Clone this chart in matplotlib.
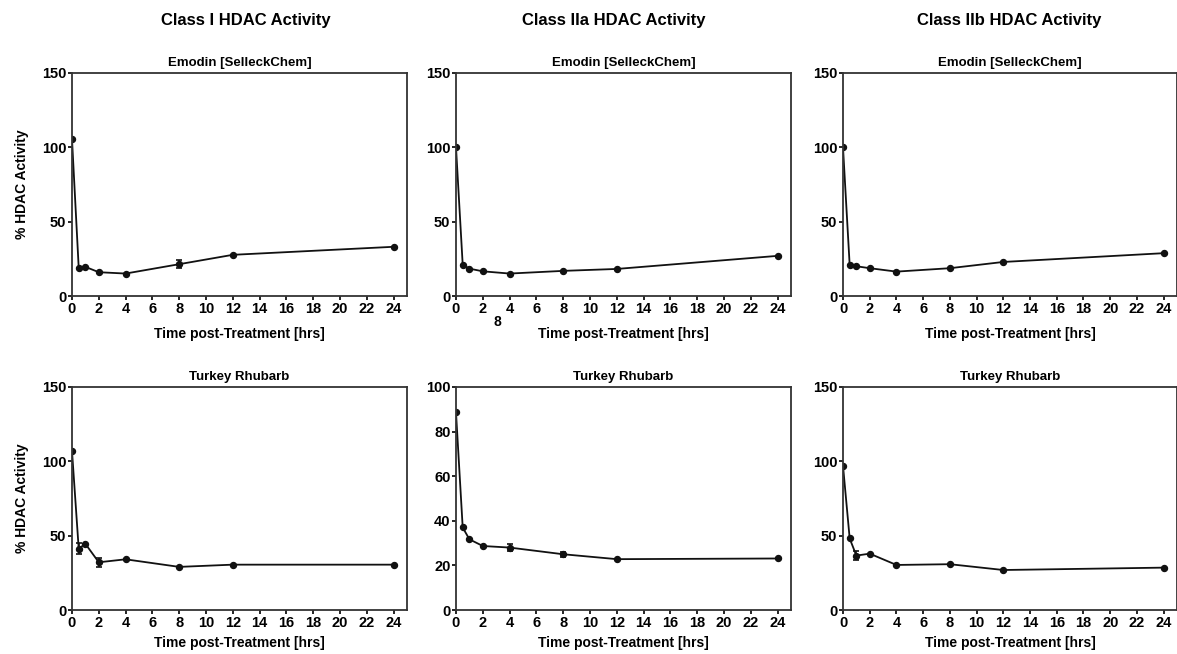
import matplotlib
matplotlib.use("Agg")
import matplotlib.pyplot as plt
import numpy as np

plt.rcParams['font.family'] = ['Liberation Sans', 'DejaVu Sans']
plt.rcParams['font.weight'] = 'bold'

time_hrs = [0, 0.5, 1, 2, 4, 8, 12, 24]

class_headers = ["Class I HDAC Activity", "Class IIa HDAC Activity", "Class IIb HDAC Activity"]
row_titles = ["Emodin [SelleckChem]", "Turkey Rhubarb"]

# Emodin row
emodin_I = [105.5, 19.1, 19.6, 16.0, 15.1, 21.4, 27.7, 33.1]
emodin_I_err = [0, 0, 0, 0, 0, 2.7, 0, 0]
emodin_IIa = [100.0, 21.1, 18.4, 16.6, 15.1, 16.9, 18.2, 27.0]
emodin_IIa_err = [0, 0, 0, 0, 0, 0, 0, 0]
emodin_IIb = [100.0, 20.7, 20.0, 18.7, 16.4, 18.7, 22.9, 28.8]
emodin_IIb_err = [0, 0, 0, 0, 0, 0, 0, 0]

# Turkey Rhubarb row
rhubarb_I = [106.9, 41.3, 44.5, 32.1, 34.1, 29.0, 30.5, 30.5]
rhubarb_I_err = [0, 3.8, 0, 3.0, 0, 0, 0, 0]
rhubarb_IIa = [88.6, 37.0, 31.7, 28.7, 28.0, 25.0, 22.8, 23.1]
rhubarb_IIa_err = [0, 0, 0, 0, 1.6, 1.2, 0, 0]
rhubarb_IIb = [97.0, 48.1, 36.6, 37.9, 30.3, 30.8, 26.9, 28.5]
rhubarb_IIb_err = [0, 0, 2.8, 0, 0, 0, 0, 0]

x_ticks = list(range(0, 25, 2))
y_ticks_150 = [0, 50, 100, 150]
y_ticks_100 = [0, 20, 40, 60, 80, 100]

panels = [
    [(emodin_I, emodin_I_err, y_ticks_150), (emodin_IIa, emodin_IIa_err, y_ticks_150), (emodin_IIb, emodin_IIb_err, y_ticks_150)],
    [(rhubarb_I, rhubarb_I_err, y_ticks_150), (rhubarb_IIa, rhubarb_IIa_err, y_ticks_100), (rhubarb_IIb, rhubarb_IIb_err, y_ticks_150)],
]

W, H = 1177, 654
fig = plt.figure(figsize=(W / 100, H / 100), dpi=100)

col_left = [72, 456, 843]
col_width = [335, 335, 334]
row_top = [73, 387]
ax_h = 223
xlabel_pad = [8, 5]

for r in range(2):
    for c in range(3):
        vals, errs, yt = panels[r][c]
        ax = fig.add_axes([col_left[c] / W, 1 - (row_top[r] + ax_h) / H,
                           col_width[c] / W, ax_h / H])
        ax.errorbar(time_hrs, vals, yerr=errs, color='#111111', lw=1.3,
                    marker='o', ms=4.3, capsize=2.5, elinewidth=1.2, capthick=1.2)
        ax.set_xlim(0, 25)
        ax.set_ylim(0, yt[-1])
        ax.set_xticks(x_ticks)
        ax.set_yticks(yt)
        ax.tick_params(direction='out', length=3, width=1.2, labelsize=10.5, pad=1)
        for lbl in ax.get_xticklabels() + ax.get_yticklabels():
            lbl.set_fontweight('bold')
        for sp in ax.spines.values():
            sp.set_linewidth(1.3)
            sp.set_color('#333333')
        ax.set_title(row_titles[r], fontsize=9.5, fontweight='bold', pad=5)
        ax.set_xlabel("Time post-Treatment [hrs]", fontsize=10, fontweight='bold',
                      labelpad=xlabel_pad[r])
        if c == 0:
            ax.set_ylabel("% HDAC Activity", fontsize=10, fontweight='bold', labelpad=9)

header_x = [246, 614, 1009]
for c in range(3):
    fig.text(header_x[c] / W, 1 - 21 / H, class_headers[c], ha='center', va='center',
             fontsize=12, fontweight='bold')

fig.text(497 / W, 1 - 322 / H, "8", ha='center', va='center', fontsize=10, fontweight='bold')

fig.savefig("out.png", dpi=100)
